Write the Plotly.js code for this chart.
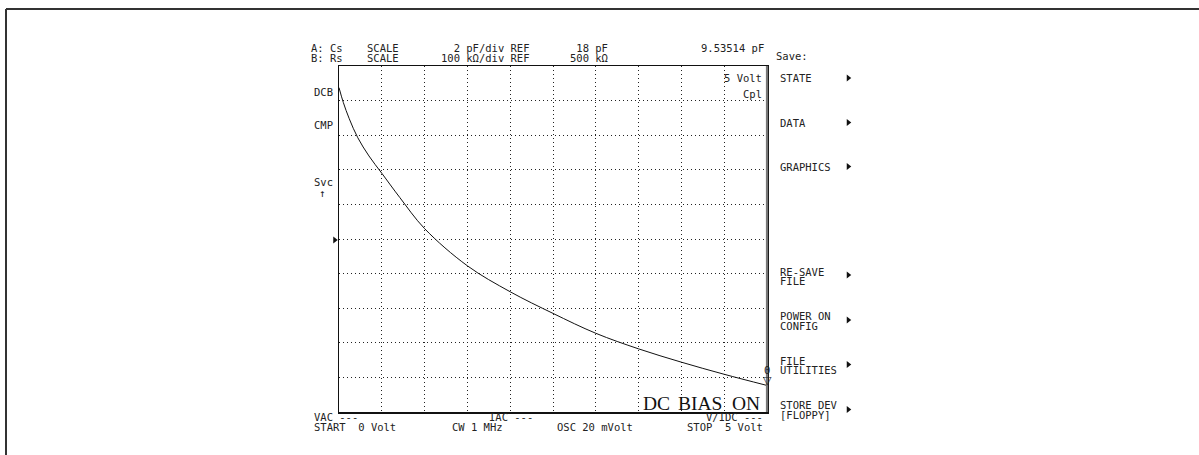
<!DOCTYPE html>
<html>
<head>
<meta charset="utf-8">
<script src="https://cdn.plot.ly/plotly-3.0.1.min.js"></script>
<style>html,body{margin:0;padding:0;background:#fff;}#chart{width:1199px;height:455px;}</style>
</head>
<body>
<div id="chart"></div>
<script>
// ---- data (DC bias sweep, series capacitance) ----
const biasVolts = [0, 0.05, 0.12, 0.22, 0.35, 0.5, 0.71, 1.0, 1.5, 2.0, 2.5, 3.0, 3.5, 4.0, 4.5, 5.0];
const csPicofarad = [26.75, 25.9, 24.95, 23.85, 22.8, 21.8, 20.4, 18.6, 16.45, 14.95, 13.7, 12.55, 11.65, 10.88, 10.18, 9.535];
const headerA = ["A: Cs", "SCALE", "\u00a0\u00a02 pF/div REF", "\u00a018 pF"];
const headerB = ["B: Rs", "SCALE", "100 k\u03a9/div REF", "500 k\u03a9"];
const markerReadout = "9.53514 pF";
const leftSoftLabels = ["DCB", "CMP", "Svc", "\u2191"];
const menuTitle = "Save:";
const menuItems = [["STATE"], ["DATA"], ["GRAPHICS"], ["RE-SAVE", "FILE"], ["POWER ON", "CONFIG"], ["FILE", "UTILITIES"], ["STORE DEV", "[FLOPPY]"]];
const footer = {vac: "VAC ---", start: "START  0 Volt", iac: "IAC ---", cw: "CW 1 MHz", osc: "OSC 20 mVolt", vidc: "V/IDC ---", stop: "STOP  5 Volt"};
const inPlotRight = ["5 Volt", "Cpl"];
const biasBannerWords = ["DC", "BIAS", "ON"];

// ---- layout helpers ----
const L = 339, R = 767, T = 66, B = 412, W = 1199, H = 455;
const px = x => (x - L) / (R - L);
const py = y => (B - y) / (B - T);
const mono = {family: "DejaVu Sans Mono, monospace", size: 10.5, color: "#222"};
const nb = s => s.replace(/ /g, "\u00a0");
const annotations = [];
function ann(text, x, y, xanchor, font) {
  annotations.push({text: nb(text), x: px(x), y: py(y), xref: "paper", yref: "paper",
    xanchor: xanchor || "left", yanchor: "middle", showarrow: false, font: font || mono,
    borderpad: 0});
}

// header
const hx = [310, 366, 440, 569];
headerA.forEach((t, i) => ann(t, hx[i], 48.5, "left"));
headerB.forEach((t, i) => ann(t, hx[i], 58, "left"));
ann(markerReadout, 765, 48.5, "right");
ann(menuTitle, 775, 56, "left");

// inside plot right
ann(inPlotRight[0], 763, 78, "right");
ann(inPlotRight[1], 763, 94, "right");

// left soft labels
ann(leftSoftLabels[0], 313, 92, "left");
ann(leftSoftLabels[1], 313, 125, "left");
ann(leftSoftLabels[2], 313, 182, "left");
ann(leftSoftLabels[3], 322, 193, "center");

// footer
ann(footer.vac, 313, 417, "left");
ann(footer.start, 313, 427, "left");
ann(footer.iac, 488, 417, "left");
ann(footer.cw, 451, 427, "left");
ann(footer.osc, 556, 427, "left");
ann(footer.vidc, 764, 417, "right");
ann(footer.stop, 764, 427, "right");

// banner
const serif = {family: "Liberation Serif, Times New Roman, serif", size: 19.5, color: "#111"};
ann(biasBannerWords[0], 641.5, 403.5, "left", serif);
ann(biasBannerWords[1], 676.5, 403.5, "left", serif);
ann(biasBannerWords[2], 730.5, 403.5, "left", serif);

// menu
const menuY = [[78], [122.5], [166.5], [271.5, 281], [316, 325.5], [360.5, 370], [405, 414.5]];
const arrowY = [78, 122.5, 166.5, 275, 320, 364.5, 409.5];
menuItems.forEach((lines, i) => lines.forEach((t, j) => ann(t, 779, menuY[i][j], "left")));

// marker at sweep end
const lastX = biasVolts[biasVolts.length - 1], lastY = csPicofarad[csPicofarad.length - 1];
annotations.push({text: "\u25bd", x: lastX, y: lastY, xref: "x", yref: "y", xanchor: "center", yanchor: "bottom",
  showarrow: false, font: {family: "DejaVu Sans", size: 11, color: "#222"}, borderpad: 0, yshift: -3});
annotations.push({text: "0", x: lastX, y: lastY, xref: "x", yref: "y", xanchor: "center", yanchor: "bottom",
  showarrow: false, font: mono, borderpad: 0, yshift: 8});

// shapes
const shapes = [];
function tri(cx, cy, w, h, fill) {
  const x0 = px(cx - w / 2), x1 = px(cx + w / 2), y0 = py(cy - h / 2), y1 = py(cy + h / 2), ym = py(cy);
  shapes.push({type: "path", xref: "paper", yref: "paper", path: `M ${x0},${y0} L ${x1},${ym} L ${x0},${y1} Z`,
    fillcolor: fill, line: {width: 0}});
}
arrowY.forEach(y => tri(849, y, 4.5, 7, "#111"));
tri(335.5, 240, 4.5, 7, "#111");
// outer frame
shapes.push({type: "line", xref: "paper", yref: "paper", x0: px(6), x1: px(1205), y0: py(9), y1: py(9), line: {color: "#333", width: 2}});
shapes.push({type: "line", xref: "paper", yref: "paper", x0: px(6), x1: px(6), y0: py(9), y1: py(460), line: {color: "#333", width: 2}});
// right plot border (gray, thicker)
shapes.push({type: "line", xref: "paper", yref: "paper", x0: 1, x1: 1, y0: 0, y1: 1, line: {color: "#777", width: 2.2}});

const trace = {x: biasVolts, y: csPicofarad, type: "scatter", mode: "lines",
  line: {color: "#111", width: 1, shape: "spline", smoothing: 1}, hoverinfo: "skip"};

const axisCommon = {showgrid: true, gridcolor: "#222", gridwidth: 1, griddash: "1px,3px",
  showline: true, mirror: true, linecolor: "#111", linewidth: 1.5, zeroline: false,
  ticks: "", showticklabels: false, fixedrange: true};

const layout = {
  width: W, height: H,
  margin: {l: L, r: W - R, t: T, b: H - B, pad: 0},
  paper_bgcolor: "#fff", plot_bgcolor: "#fff",
  showlegend: false,
  xaxis: Object.assign({}, axisCommon, {range: [0, 5], tick0: 0, dtick: 0.5}),
  yaxis: Object.assign({}, axisCommon, {range: [8, 28], tick0: 8, dtick: 2}),
  annotations: annotations,
  shapes: shapes
};

Plotly.newPlot("chart", [trace], layout, {staticPlot: true, displayModeBar: false});
</script>
</body>
</html>
